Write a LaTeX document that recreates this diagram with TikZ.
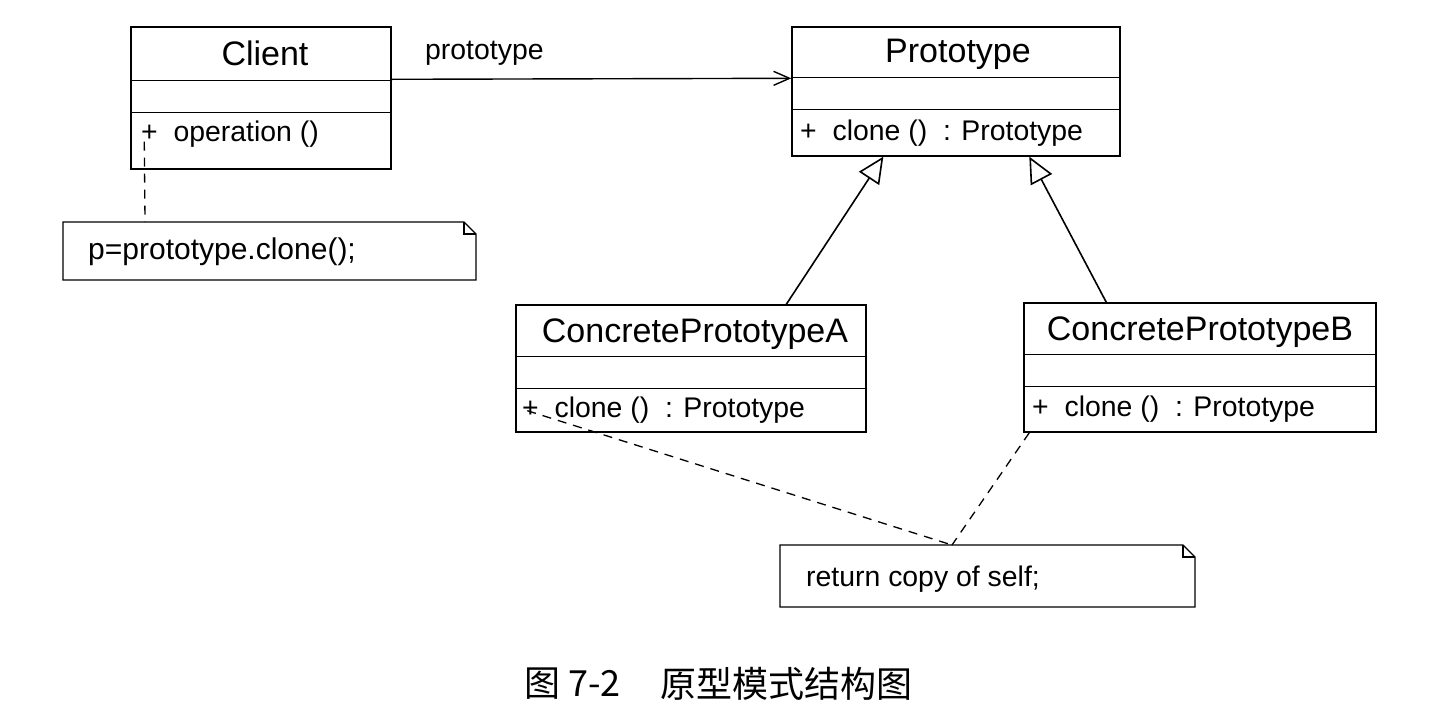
\documentclass[tikz,border=0pt]{standalone}
\usepackage{fontspec}
\setmainfont{Liberation Sans}
\newfontfamily\cjk{Noto Sans CJK SC}
\usetikzlibrary{arrows.meta,calc}
\tikzset{
  umlbox/.style={draw, line width=1.4pt, inner sep=0pt, fill=white},
  titletext/.style={font=\fontsize{34}{38}\selectfont, inner sep=0pt, anchor=center},
  membertext/.style={font=\fontsize{28.4}{32}\selectfont, inner sep=0pt, anchor=west},
  divider/.style={line width=1.4pt},
  assoc/.style={line width=1.4pt, -{Straight Barb[length=16pt,width=14pt,line width=1.4pt]}},
  inherit/.style={line width=1.6pt, -{Triangle[open,length=26pt,width=24pt,line width=1.6pt,fill=white]}},
  notelink/.style={line width=1.3pt, dash pattern=on 9pt off 7pt},
  notebody/.style={line width=1.4pt},
  captext/.style={font=\cjk\fontsize{36}{40}\selectfont, inner sep=0pt, anchor=west},
}
\begin{document}
\begin{tikzpicture}[x=1pt,y=-1pt]
\useasboundingbox (0,0) rectangle (1444,718);
% Client
\node[umlbox, minimum width=260pt, minimum height=142pt] (client) at (261,98) {};
\draw[divider] ($(client.north west)+(0,54)$) -- ($(client.north east)+(0,54)$);
\draw[divider] ($(client.north west)+(0,86)$) -- ($(client.north east)+(0,86)$);
\node[titletext] (clientname) at (265,53) {Client};
\node[membertext] (clientop) at (141,134) {+\ \ operation ()};
% Prototype
\node[umlbox, minimum width=328pt, minimum height=129pt] (proto) at (956,91.5) {};
\draw[divider] ($(proto.north west)+(0,51)$) -- ($(proto.north east)+(0,51)$);
\draw[divider] ($(proto.north west)+(0,83)$) -- ($(proto.north east)+(0,83)$);
\node[titletext] (protoname) at (958,54) {Prototype};
\node[membertext] (protoop) at (800,133) {+\ \ clone ()\ \ : Prototype};
% Concrete A
\node[umlbox, minimum width=350pt, minimum height=127pt] (ca) at (691,368.5) {};
\draw[divider] ($(ca.north west)+(0,52)$) -- ($(ca.north east)+(0,52)$);
\draw[divider] ($(ca.north west)+(0,84)$) -- ($(ca.north east)+(0,84)$);
\node[titletext] (caname) at (695,334) {ConcretePrototypeA};
\node[membertext] (caop) at (522,410) {+\ \ clone ()\ \ : Prototype};
% Concrete B
\node[umlbox, minimum width=352pt, minimum height=129pt] (cb) at (1200,367.5) {};
\draw[divider] ($(cb.north west)+(0,52)$) -- ($(cb.north east)+(0,52)$);
\draw[divider] ($(cb.north west)+(0,84)$) -- ($(cb.north east)+(0,84)$);
\node[titletext] (cbname) at (1200,332) {ConcretePrototypeB};
\node[membertext] (cbop) at (1032,409) {+\ \ clone ()\ \ : Prototype};
% Note 1
\draw[notebody] (63,222) -- (464,222) -- (476,234) -- (476,280) -- (63,280) -- cycle;
\draw[line width=1.1pt] (464,222) -- (464,234) -- (476,234);
\node[font=\fontsize{30}{34}\selectfont, inner sep=0pt, anchor=west] (note1) at (88,252) {p=prototype.clone();};
\coordinate (note1top) at (145,222);
% Note 2
\draw[notebody] (780,545) -- (1183,545) -- (1195,557) -- (1195,607) -- (780,607) -- cycle;
\draw[line width=1.1pt] (1183,545) -- (1183,557) -- (1195,557);
\node[membertext] (note2) at (806,579) {return copy of self;};
\coordinate (note2top) at (952,545);
% Connectors
\draw[assoc] ($(client.north east)+(0,53)$) -- ($(proto.north west)+(0,52)$);
\node[membertext] (assoclabel) at (425,53) {prototype};
\draw[inherit] ($(ca.north west)+(271,0)$) -- ($(proto.south west)+(92,0)$);
\draw[inherit] ($(cb.north west)+(83,0)$) -- ($(proto.south west)+(238,0)$);
\draw[notelink] ($(client.south west)+(14,-28)$) -- (note1top);
\draw[notelink] ($(ca.south west)+(12,-22)$) -- (note2top);
\draw[notelink] ($(cb.south west)+(6,0)$) -- (note2top);
% Caption
\node[captext] (capnum) at (524,684) {图 7-2};
\node[captext] (captitle) at (660,684) {原型模式结构图};
\end{tikzpicture}
\end{document}
